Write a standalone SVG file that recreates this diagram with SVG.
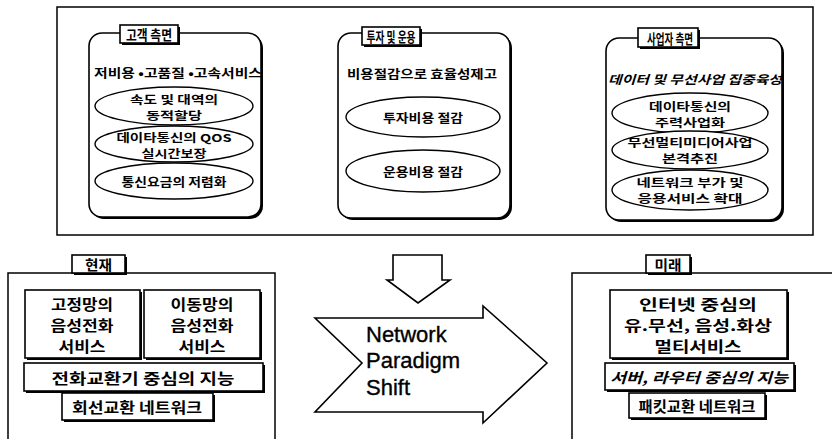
<svg xmlns="http://www.w3.org/2000/svg" width="832" height="439" viewBox="0 0 832 439">
<style>
.ln{fill:none;stroke:#000;stroke-width:1.5}
.bx{fill:#fff;stroke:#000;stroke-width:1.6}
.el{fill:#fff;stroke:#000;stroke-width:1.4}
.sh{fill:#000}
.k{font-family:"Noto Sans CJK KR","Noto Sans",sans-serif;font-weight:bold;fill:#000;text-anchor:middle;dominant-baseline:central}
.s{font-size:10.8px}
.m{font-size:12px}
.lb{font-size:13.5px}
.b{font-size:14.4px}
.en{font-family:"Liberation Sans",Arial,sans-serif;font-size:22px;fill:#000;stroke:#000;stroke-width:0.35}
</style>
<rect width="832" height="439" fill="#fff"/>
<g id="frame-top"><rect class="ln" x="57" y="7" width="756" height="228"/></g>

<g id="customer">
<rect class="sh" x="91" y="35" width="172" height="184" rx="13"/>
<rect class="bx" x="89" y="33" width="172" height="184" rx="13" stroke-width="1.8"/>
<rect class="sh" x="122" y="27" width="58" height="18"/>
<rect class="bx" x="120" y="25" width="58" height="18"/>
<text class="k lb" x="149" y="34" textLength="46" lengthAdjust="spacingAndGlyphs">고객 측면</text>
<text class="k m" x="178" y="72" textLength="168" lengthAdjust="spacingAndGlyphs">저비용 •고품질 •고속서비스</text>
<ellipse class="el" cx="174" cy="106" rx="79" ry="19"/>
<text class="k s" x="174" y="98.5" textLength="88" lengthAdjust="spacingAndGlyphs">속도 및 대역의</text>
<text class="k s" x="174" y="114.5" textLength="56" lengthAdjust="spacingAndGlyphs">동적할당</text>
<ellipse class="el" cx="174" cy="144" rx="79" ry="18"/>
<text class="k s" x="174" y="136.5" textLength="115" lengthAdjust="spacingAndGlyphs">데이타통신의 QOS</text>
<text class="k s" x="174" y="152.5" textLength="65" lengthAdjust="spacingAndGlyphs">실시간보장</text>
<ellipse class="el" cx="174" cy="181" rx="79" ry="18"/>
<text class="k m" x="174" y="181" textLength="105" lengthAdjust="spacingAndGlyphs">통신요금의 저렴화</text>
</g>

<g id="invest">
<rect class="sh" x="340" y="35" width="172" height="185" rx="13"/>
<rect class="bx" x="338" y="33" width="172" height="185" rx="13" stroke-width="1.8"/>
<rect class="sh" x="364" y="29" width="58" height="18"/>
<rect class="bx" x="362" y="27" width="58" height="18"/>
<text class="k lb" x="391" y="36" textLength="49" lengthAdjust="spacingAndGlyphs">투자 및 운용</text>
<text class="k m" x="422" y="73" textLength="150" lengthAdjust="spacingAndGlyphs">비용절감으로 효율성제고</text>
<ellipse class="el" cx="423" cy="117" rx="77" ry="20"/>
<text class="k m" x="423" y="117" textLength="80" lengthAdjust="spacingAndGlyphs">투자비용 절감</text>
<ellipse class="el" cx="423" cy="171" rx="77" ry="21"/>
<text class="k m" x="423" y="171" textLength="80" lengthAdjust="spacingAndGlyphs">운용비용 절감</text>
</g>

<g id="operator">
<rect class="sh" x="608" y="40" width="176" height="182" rx="13"/>
<rect class="bx" x="606" y="38" width="176" height="182" rx="13" stroke-width="1.8"/>
<rect class="sh" x="640" y="30" width="60" height="19"/>
<rect class="bx" x="638" y="28" width="60" height="19"/>
<text class="k lb" x="670" y="37.5" textLength="46" lengthAdjust="spacingAndGlyphs">사업자 측면</text>
<text class="k m" x="695" y="78" font-style="italic" textLength="174" lengthAdjust="spacingAndGlyphs">데이터 및 무선사업 집중육성</text>
<ellipse class="el" cx="690" cy="113" rx="78" ry="20"/>
<text class="k s" x="690" y="105.5" textLength="82" lengthAdjust="spacingAndGlyphs">데이타통신의</text>
<text class="k s" x="690" y="121.5" textLength="70" lengthAdjust="spacingAndGlyphs">주력사업화</text>
<ellipse class="el" cx="690" cy="150" rx="78" ry="19"/>
<text class="k s" x="690" y="142" textLength="125" lengthAdjust="spacingAndGlyphs">무선멀티미디어사업</text>
<text class="k s" x="690" y="158" textLength="56" lengthAdjust="spacingAndGlyphs">본격추진</text>
<ellipse class="el" cx="690" cy="190" rx="78" ry="20"/>
<text class="k s" x="690" y="182" textLength="107" lengthAdjust="spacingAndGlyphs">네트워크 부가 및</text>
<text class="k s" x="690" y="198" textLength="105" lengthAdjust="spacingAndGlyphs">응용서비스 확대</text>
</g>

<g id="connectors">
<polygon class="bx" points="393,255 442,255 442,280 450,280 418,303 387,280 393,280" stroke-width="1.4"/>
</g>

<g id="shift">
<polygon class="bx" points="315,318 483,318 483,306 547,363 483,423 483,412 315,412 362,363" stroke-width="1.4"/>
<text class="en" x="366" y="342">Network</text>
<text class="en" x="366" y="368">Paradigm</text>
<text class="en" x="366" y="395">Shift</text>
</g>

<g id="present">
<rect class="ln" x="8" y="273" width="267" height="180"/>
<rect class="sh" x="74" y="257" width="53" height="18"/>
<rect class="bx" x="72" y="255" width="53" height="18"/>
<text class="k lb" x="98.5" y="264" textLength="27" lengthAdjust="spacingAndGlyphs">현재</text>
<rect class="sh" x="27" y="292" width="115" height="68"/>
<rect class="bx" x="25" y="290" width="115" height="68"/>
<text class="k b" x="82" y="303" textLength="62" lengthAdjust="spacingAndGlyphs">고정망의</text>
<text class="k b" x="82" y="324" textLength="63" lengthAdjust="spacingAndGlyphs">음성전화</text>
<text class="k b" x="82" y="345" textLength="47" lengthAdjust="spacingAndGlyphs">서비스</text>
<rect class="sh" x="146" y="292" width="116" height="68"/>
<rect class="bx" x="144" y="290" width="116" height="68"/>
<text class="k b" x="202" y="303" textLength="63" lengthAdjust="spacingAndGlyphs">이동망의</text>
<text class="k b" x="202" y="324" textLength="63" lengthAdjust="spacingAndGlyphs">음성전화</text>
<text class="k b" x="202" y="345" textLength="47" lengthAdjust="spacingAndGlyphs">서비스</text>
<rect class="sh" x="26" y="365" width="239" height="28"/>
<rect class="bx" x="24" y="363" width="239" height="28"/>
<text class="k b" x="143" y="377" textLength="183" lengthAdjust="spacingAndGlyphs">전화교환기 중심의 지능</text>
<rect class="sh" x="64" y="395" width="151" height="27"/>
<rect class="bx" x="62" y="393" width="151" height="27"/>
<text class="k b" x="137" y="406.5" textLength="130" lengthAdjust="spacingAndGlyphs">회선교환 네트워크</text>
</g>

<g id="future">
<rect class="ln" x="572" y="273" width="280" height="180"/>
<rect class="sh" x="648" y="257" width="44" height="18"/>
<rect class="bx" x="646" y="255" width="44" height="18"/>
<text class="k lb" x="668" y="264" textLength="27" lengthAdjust="spacingAndGlyphs">미래</text>
<rect class="sh" x="612" y="292" width="177" height="68"/>
<rect class="bx" x="610" y="290" width="177" height="68"/>
<text class="k b" x="698" y="303" textLength="118" lengthAdjust="spacingAndGlyphs">인터넷 중심의</text>
<text class="k b" x="698" y="324" textLength="148" lengthAdjust="spacingAndGlyphs">유.무선, 음성.화상</text>
<text class="k b" x="698" y="345" textLength="87" lengthAdjust="spacingAndGlyphs">멀티서비스</text>
<rect class="sh" x="607" y="365" width="189" height="27"/>
<rect class="bx" x="605" y="363" width="189" height="27"/>
<text class="k b" x="699" y="376.5" font-style="italic" textLength="178" lengthAdjust="spacingAndGlyphs">서버, 라우터 중심의 지능</text>
<rect class="sh" x="631" y="395" width="136" height="25"/>
<rect class="bx" x="629" y="393" width="136" height="25"/>
<text class="k b" x="697" y="405.5" textLength="117" lengthAdjust="spacingAndGlyphs">패킷교환 네트워크</text>
</g>
</svg>
